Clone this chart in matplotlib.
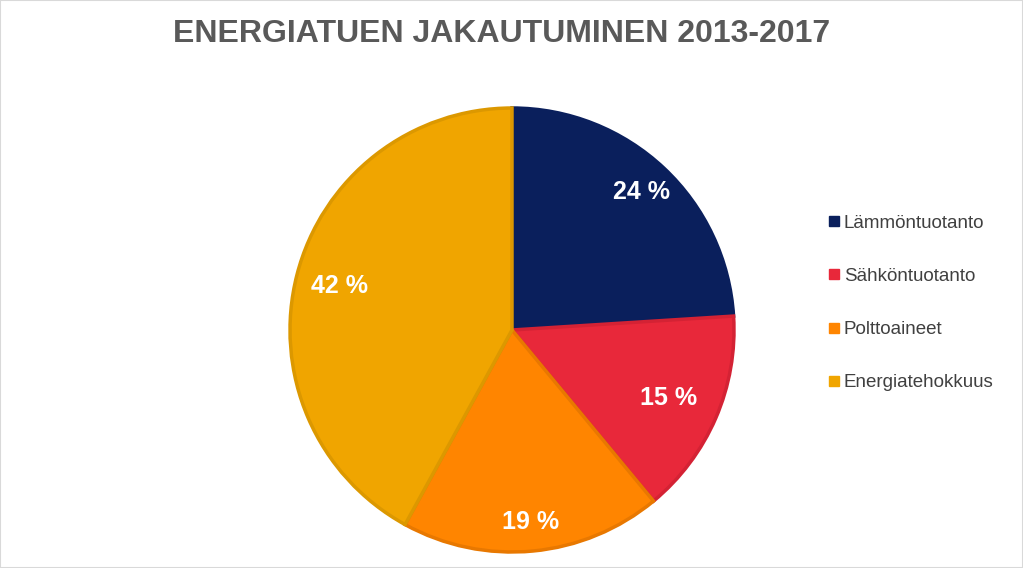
import matplotlib
matplotlib.use("Agg")
import matplotlib.pyplot as plt
from matplotlib.patches import Rectangle
from matplotlib.lines import Line2D
import numpy as np

categories = ["Lämmöntuotanto", "Sähköntuotanto", "Polttoaineet", "Energiatehokkuus"]
values = [24, 15, 19, 42]
colors = ["#0A1F5C", "#E8283A", "#FF8500", "#F0A500"]
edge_colors = ["#0A1F5C", "#D42234", "#E87800", "#DC9800"]
label_dist = [0.85, 0.77, 0.87, 0.80]

plt.rcParams['font.family'] = ['Liberation Sans', 'DejaVu Sans']

fig = plt.figure(figsize=(10.23, 5.68), dpi=100)
fig.patches.append(Rectangle((0, 0), 1, 1, transform=fig.transFigure,
                             fill=False, edgecolor="#D9D9D9", linewidth=1.5))

W, H = 1023, 568
cx, cy, half = 512, 330, 230
ax = fig.add_axes([(cx - half) / W, (H - cy - half) / H, 2 * half / W, 2 * half / H])
wedges, _ = ax.pie(values, colors=colors, startangle=90, counterclock=False,
                   radius=1.0, wedgeprops=dict(linewidth=2.5))
for w, ec, v, d in zip(wedges, edge_colors, values, label_dist):
    w.set_edgecolor(ec)
    mid = np.deg2rad((w.theta1 + w.theta2) / 2)
    ax.text(d * np.cos(mid), d * np.sin(mid), f"{v} %", ha="center", va="center",
            color="white", fontsize=18, fontweight="bold")
lim = half / 222
ax.set_xlim(-lim, lim)
ax.set_ylim(-lim, lim)
ax.set_aspect("equal")
ax.axis("off")

fig.text(502 / W, 1 - 34 / H, "ENERGIATUEN JAKAUTUMINEN 2013-2017", ha="center", va="center",
         fontsize=23, fontweight="bold", color="#595959")

handles = [Line2D([], [], marker="s", linestyle="none", markersize=7,
                  markerfacecolor=c, markeredgecolor=c) for c in colors]
leg = fig.legend(handles, categories, loc="center left",
                 bbox_to_anchor=(811 / W, 1 - 303 / H), frameon=False,
                 fontsize=13.5, labelspacing=1.92, handletextpad=0.15, handlelength=0.7,
                 labelcolor="#404040")

fig.savefig("out.png", dpi=100)
